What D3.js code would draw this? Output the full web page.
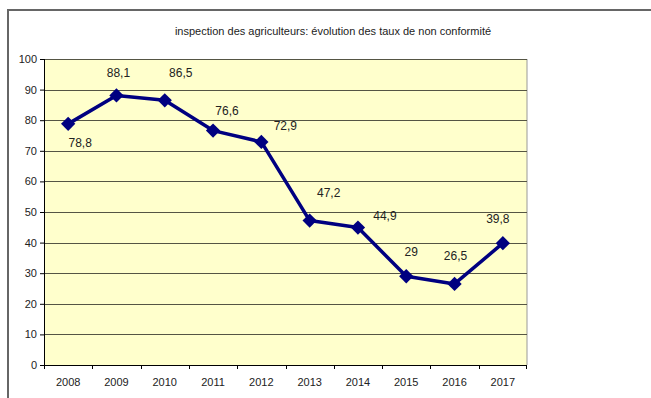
<!DOCTYPE html>
<html>
<head>
<meta charset="utf-8">
<script src="https://cdn.jsdelivr.net/npm/d3@7"></script>
<style>
  body { margin: 0; background: #fff; }
  svg { display: block; font-family: "Liberation Sans", Arial, sans-serif; }
</style>
</head>
<body>
<svg id="chart"></svg>
<script>
// inspection des agriculteurs: line chart of non-compliance rate per year

const years = ["2008", "2009", "2010", "2011", "2012", "2013", "2014", "2015", "2016", "2017"];
const rates = [78.8, 88.1, 86.5, 76.6, 72.9, 47.2, 44.9, 29, 26.5, 39.8];
const rateLabels = ["78,8", "88,1", "86,5", "76,6", "72,9", "47,2", "44,9", "29", "26,5", "39,8"];
const yTicks = [0, 10, 20, 30, 40, 50, 60, 70, 80, 90, 100];
const title = "inspection des agriculteurs: évolution des taux de non conformité";

// where each value label sits relative to its point (dx, dy)
const labelOffsets = [[12, 19], [2, -22], [16, -27], [14, -20], [24, -16], [19, -28], [27, -12], [5, -24], [1, -28], [-5, -24]];

const width = 651, height = 398;
const margin = { top: 59, right: 124, bottom: 33, left: 44 };

const svg = d3.select("#chart")
    .attr("width", width)
    .attr("height", height);

// outer frame
svg.append("rect")
    .attr("x", 8).attr("y", 10)
    .attr("width", width + 20).attr("height", height + 20)
    .attr("fill", "#fff")
    .attr("stroke", "#666")
    .attr("stroke-width", 2);

svg.append("text")
    .attr("x", 333).attr("y", 35)
    .attr("text-anchor", "middle")
    .attr("font-size", 11)
    .attr("fill", "#222")
    .text(title);

const innerW = width - margin.left - margin.right;
const innerH = height - margin.top - margin.bottom;

const x = d3.scaleBand().domain(years).range([0, innerW]);
const y = d3.scaleLinear().domain([0, 100]).range([innerH, 0]);

const g = svg.append("g").attr("transform", `translate(${margin.left},${margin.top})`);

g.append("rect")
    .attr("width", innerW).attr("height", innerH)
    .attr("fill", "#ffffcc");

g.append("line")
    .attr("x1", innerW).attr("x2", innerW)
    .attr("y1", 0).attr("y2", innerH)
    .attr("stroke", "#999");

g.selectAll(".grid")
    .data(yTicks.filter(d => d > 0))
    .enter().append("line")
    .attr("x1", 0).attr("x2", innerW)
    .attr("y1", d => Math.round(y(d)) + 0.5).attr("y2", d => Math.round(y(d)) + 0.5)
    .attr("stroke", "#555544");

// y axis
const yAxis = g.append("g")
    .call(d3.axisLeft(y).tickValues(yTicks).tickSize(4).tickFormat(d3.format("d")));
yAxis.selectAll("text").attr("font-size", 11).attr("fill", "#222").attr("font-family", null);
yAxis.selectAll("line, path").attr("stroke", "#000");
yAxis.select("path").attr("d", `M0.5,0V${innerH}`);

// x axis: ticks sit between categories
const xAxis = g.append("g").attr("transform", `translate(0,${innerH})`);
xAxis.append("line")
    .attr("x1", 0).attr("x2", innerW)
    .attr("y1", 0.5).attr("y2", 0.5)
    .attr("stroke", "#000");
xAxis.selectAll(".tick")
    .data(years)
    .enter().append("line")
    .attr("x1", d => Math.round(x(d)) + 0.5).attr("x2", d => Math.round(x(d)) + 0.5)
    .attr("y1", 0).attr("y2", 4)
    .attr("stroke", "#000");
xAxis.append("line")
    .attr("x1", innerW - 0.5).attr("x2", innerW - 0.5)
    .attr("y1", 0).attr("y2", 4)
    .attr("stroke", "#000");
xAxis.selectAll("text")
    .data(years)
    .enter().append("text")
    .attr("x", d => x(d) + x.bandwidth() / 2)
    .attr("y", 21)
    .attr("text-anchor", "middle")
    .attr("font-size", 11)
    .attr("fill", "#222")
    .text(d => d);

const points = years.map((yr, i) => ({ yr, v: rates[i], label: rateLabels[i], off: labelOffsets[i] }));
const cx = d => x(d.yr) + x.bandwidth() / 2;

const line = d3.line().x(cx).y(d => y(d.v));

g.append("path")
    .datum(points)
    .attr("d", line)
    .attr("fill", "none")
    .attr("stroke", "#000080")
    .attr("stroke-width", 3.5)
    .attr("stroke-linejoin", "round");

g.selectAll(".marker")
    .data(points)
    .enter().append("path")
    .attr("transform", d => `translate(${cx(d)},${y(d.v)})`)
    .attr("d", d3.symbol(d3.symbolDiamond2, 130)())
    .attr("fill", "#000080");

g.selectAll(".vlabel")
    .data(points)
    .enter().append("text")
    .attr("x", d => cx(d) + d.off[0])
    .attr("y", d => y(d.v) + d.off[1] + 4)
    .attr("text-anchor", "middle")
    .attr("font-size", 12)
    .attr("fill", "#222")
    .text(d => d.label);
</script>
</body>
</html>
